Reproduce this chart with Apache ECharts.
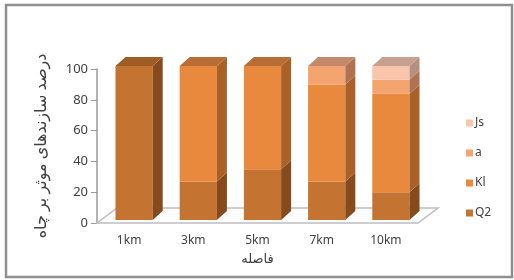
<!DOCTYPE html>
<html>
<head>
<meta charset="utf-8">
<script src="https://cdn.jsdelivr.net/npm/echarts@6/dist/echarts.min.js"></script>
<style>
  html, body { margin: 0; padding: 0; background: #fff; }
  #chart { width: 514px; height: 280px; }
</style>
</head>
<body>
<div id="chart"></div>
<script>
// data
const categories = ["1km", "3km", "5km", "7km", "10km"];
const q2 = [100, 25, 33, 25, 18];
const kl = [0, 75, 67, 63, 64];
const aVals = [0, 0, 0, 12, 9];
const js = [0, 0, 0, 0, 9];
const yTicks = { min: 0, max: 100, interval: 20 };

// face colours: front / side / top
const faces = {
  Q2: ["#c57330", "#854b1d", "#a05c25"],
  Kl: ["#e8893e", "#a9612a", "#b96c33"],
  a:  ["#f3a46f", "#b07253", "#c4896a"],
  Js: ["#f9c6ab", "#b58f80", "#c8a090"]
};

const FONT = "Noto Sans, DejaVu Sans, sans-serif";
const stackOrder = [["Q2", q2], ["Kl", kl], ["a", aVals], ["Js", js]];

// build stacked segments [cat, start, end, isTop]
const totals = categories.map((_, i) => stackOrder.reduce((s, [, v]) => s + v[i], 0));
const running = categories.map(() => 0);
const barSeries = stackOrder.map(([name, vals]) => {
  const segs = vals.map((v, i) => {
    const s = running[i];
    running[i] += v;
    return [i, s, s + v, running[i] >= totals[i] && v > 0 ? 1 : 0];
  });
  return {
    name: name,
    type: "custom",
    itemStyle: { color: faces[name][0] },
    data: segs,
    z: 3,
    renderItem: function (params, api) {
      const c = api.value(0), s = api.value(1), e = api.value(2), top = api.value(3);
      if (e <= s) return;
      const p0 = api.coord([c, s]);
      const p1 = api.coord([c, e]);
      const bw = api.size([1, 0])[0] * 0.58;
      const cx = p0[0] + 5, yb = p0[1] - 3, yt = p1[1] - 3;
      const xl = cx - bw / 2, xr = cx + bw / 2;
      const dx = 10, dy = 9;
      const f = faces[name];
      const kids = [
        { type: "polygon", shape: { points: [[xl, yb], [xr, yb], [xr, yt], [xl, yt]] }, style: { fill: f[0] } },
        { type: "polygon", shape: { points: [[xr, yb], [xr + dx, yb - dy], [xr + dx, yt - dy], [xr, yt]] }, style: { fill: f[1] } }
      ];
      if (top) {
        kids.push({ type: "polygon", shape: { points: [[xl, yt], [xr, yt], [xr + dx, yt - dy], [xl + dx, yt - dy]] }, style: { fill: f[2] } });
      }
      return { type: "group", children: kids };
    }
  };
});

// floor plane
const floorSeries = {
  type: "custom",
  z: 1,
  silent: true,
  data: [[0, 0]],
  renderItem: function (params, api) {
    const r = params.coordSys;
    const yb = r.y + r.height;
    return {
      type: "polygon",
      shape: { points: [[r.x, yb], [r.x + r.width, yb], [r.x + r.width + 20, yb - 15], [r.x + 20, yb - 15]] },
      style: { fill: "#ffffff", stroke: "#bdbdbd", lineWidth: 1.5 }
    };
  }
};

const chart = echarts.init(document.getElementById("chart"));
chart.setOption({
  animation: false,
  textStyle: { fontFamily: FONT },
  graphic: [{
    type: "rect",
    shape: { x: 6, y: 5, width: 506, height: 272 },
    style: { fill: "none", stroke: "#8f8f8f", lineWidth: 2.5 },
    z: 0
  }],
  grid: { left: 97, right: 96, top: 69, bottom: 57 },
  legend: {
    data: ["Js", "a", "Kl", "Q2"],
    orient: "vertical",
    left: 461,
    top: 112,
    itemWidth: 7,
    itemHeight: 7,
    itemGap: 18,
    icon: "rect",
    textStyle: { fontSize: 12, color: "#404040", fontFamily: FONT, padding: [0, 0, 0, -3] }
  },
  xAxis: {
    type: "category",
    data: categories,
    name: "فاصله",
    nameLocation: "middle",
    nameGap: 30,
    nameTextStyle: { fontSize: 13, color: "#404040", fontFamily: FONT },
    axisLine: { show: false },
    axisTick: { show: false },
    axisLabel: { margin: 12, fontSize: 12, color: "#404040", fontFamily: FONT }
  },
  yAxis: {
    type: "value",
    min: yTicks.min,
    max: yTicks.max,
    interval: yTicks.interval,
    name: "درصد سازندهای موثر بر چاه",
    nameLocation: "middle",
    nameGap: 48,
    nameTextStyle: { fontSize: 16, color: "#404040", fontFamily: FONT },
    splitLine: { show: false },
    axisLine: { show: true, lineStyle: { color: "#9a9a9a", width: 1.5 } },
    axisTick: { show: true, length: 6, lineStyle: { color: "#9a9a9a" } },
    axisLabel: { margin: 9, fontSize: 13, color: "#404040", fontFamily: FONT }
  },
  series: [floorSeries].concat(barSeries)
});
</script>
</body>
</html>
